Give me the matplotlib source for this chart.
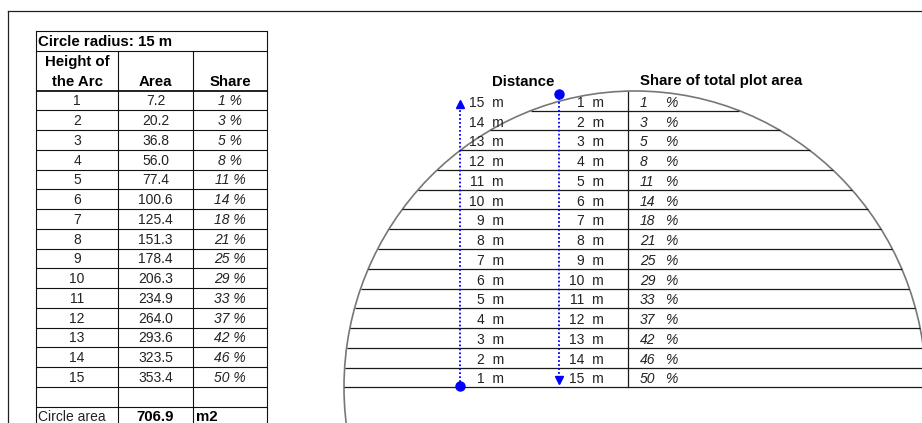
import numpy as np
import matplotlib
matplotlib.use("Agg")
import matplotlib.pyplot as plt
from matplotlib.patches import Ellipse

# ---------------- data ----------------
radius = 15
heights = list(range(1, 16))
areas = [7.2, 20.2, 36.8, 56.0, 77.4, 100.6, 125.4, 151.3, 178.4, 206.3,
         234.9, 264.0, 293.6, 323.5, 353.4]
shares = [1, 3, 5, 8, 11, 14, 18, 21, 25, 29, 33, 37, 42, 46, 50]
dist_up = [15, 14, 13, 12, 11, 10, 9, 8, 7, 6, 5, 4, 3, 2, 1]
dist_down = [1, 2, 3, 4, 5, 6, 7, 8, 9, 10, 11, 12, 13, 14, 15]
circle_area = 706.9

# ---------------- layout ----------------
W, H = 922, 423
ROW0, ROWH = 31.5, 19.75
COLS = [36, 118, 193, 267]
CX, SX, TOP, SY = 635, 19.4, 91, 19.75

FONT = ['Liberation Sans', 'DejaVu Sans']
plt.rcParams['font.family'] = FONT
FS = 10
FSB = 10.8
LC = '#111111'

fig = plt.figure(figsize=(W / 100, H / 100), dpi=100)
fig.patch.set_facecolor('white')

tax = fig.add_axes([0, 0, 1, 1])
tax.set_xlim(0, W)
tax.set_ylim(H, 0)
tax.axis('off')

dax = fig.add_axes([0, 0, 1, 1])
dax.set_xlim(-CX / SX, (W - CX) / SX)
dax.set_ylim((H - TOP) / SY, -TOP / SY)
dax.axis('off')
dax.patch.set_alpha(0)

# outer frame
tax.plot([8, 8], [11, H + 2], color='#222222', lw=0.9)
tax.plot([8, W + 2], [11, 11], color='#222222', lw=0.9)

# ---------------- left table ----------------
def ry(r):
    return ROW0 + ROWH * r

def rc(r):
    return ROW0 + ROWH * (r + 0.5) + 0.8

n_rows = 20
for r in range(0, n_rows + 1):
    if r == 2:
        continue
    y = ry(r)
    if y > H + 2:
        continue
    tax.plot([COLS[0], COLS[-1]], [y, y], color=LC,
             lw=1.3 if r == 3 else 0.8, solid_capstyle='butt')
for i, x in enumerate(COLS):
    y0 = ry(0) if i in (0, len(COLS) - 1) else ry(1)
    tax.plot([x, x], [y0, H + 2], color=LC, lw=0.8)

mid = [(COLS[i] + COLS[i + 1]) / 2 for i in range(3)]
tax.text(COLS[0] + 2, rc(0), f"Circle radius: {radius} m", fontsize=FSB,
         fontweight='bold', va='center', ha='left')
tax.text(mid[0], rc(1), "Height of", fontsize=FSB, fontweight='bold',
         va='center', ha='center')
tax.text(mid[0], rc(2), "the Arc", fontsize=FSB, fontweight='bold',
         va='center', ha='center')
tax.text(mid[1], rc(2), "Area", fontsize=FSB, fontweight='bold',
         va='center', ha='center')
tax.text(mid[2], rc(2), "Share", fontsize=FSB, fontweight='bold',
         va='center', ha='center')
for k, (h, a, s) in enumerate(zip(heights, areas, shares)):
    r = 3 + k
    tax.text(mid[0], rc(r), f"{h}", fontsize=FS, va='center', ha='center', color='#222')
    tax.text(mid[1], rc(r), f"{a:.1f}", fontsize=FS, va='center', ha='center', color='#222')
    tax.text(mid[2], rc(r), f"{s} %", fontsize=FS, va='center', ha='center',
             style='italic', color='#222')
tax.text(COLS[0] + 2, rc(19), "Circle area", fontsize=FS, va='center', ha='left', color='#222')
tax.text(mid[1], rc(19), f"{circle_area:.1f}", fontsize=FSB, fontweight='bold',
         va='center', ha='center')
tax.text(COLS[2] + 3, rc(19), "m2", fontsize=FSB, fontweight='bold',
         va='center', ha='left')

# ---------------- circle diagram ----------------
def px2m(px):
    return (px - CX) / SX

def py2m(py):
    return (py - TOP) / SY

circle = Ellipse((0, radius), 2 * radius, 2 * radius, fill=False,
                 ec='#777777', lw=1.2)
dax.add_patch(circle)

for h in heights:
    half = np.sqrt(2 * radius * h - h * h)
    dax.plot([-half, half], [h, h], color='#1a1a1a', lw=0.9,
             solid_capstyle='butt')

dax.plot([px2m(628), px2m(628)], [0.05, radius], color='#1a1a1a', lw=0.9)

# headers
dax.text(px2m(523), py2m(81.5), "Distance", fontsize=FSB, fontweight='bold',
         ha='center', va='center')
dax.text(px2m(640), py2m(81.5), "Share of total plot area", fontsize=FSB,
         fontweight='bold', ha='left', va='center')

for h, du, dd, s in zip(heights, dist_up, dist_down, shares):
    yc = h - 0.4
    dax.text(px2m(504), yc, f"{du}  m", fontsize=FS, ha='right', va='center', color='#222')
    dax.text(px2m(604), yc, f"{dd}  m", fontsize=FS, ha='right', va='center', color='#222')
    dax.text(px2m(640), yc, f"{s}", fontsize=FS, ha='left', va='center',
             style='italic', color='#222')
    dax.text(px2m(665), yc, "%", fontsize=FS, ha='left', va='center',
             style='italic', color='#222')

# blue arrows
BLUE = '#0000ff'
xl, xr = px2m(460), px2m(559)
dax.plot([xl, xl], [heights[-1] - 0.06, dist_up[-1] - 0.4], color=BLUE,
         lw=1.3, linestyle=(0, (1, 1.2)))
dax.plot([xl], [heights[-1] - 0.06], 'o', color=BLUE, ms=6.5)
dax.plot([xl], [dist_up[-1] - 0.35], '^', color=BLUE, ms=6)
dax.plot([xr, xr], [0.15, dist_down[-1] - 0.45], color=BLUE,
         lw=1.3, linestyle=(0, (1, 1.2)))
dax.plot([xr], [0.15], 'o', color=BLUE, ms=6.5)
dax.plot([xr], [dist_down[-1] - 0.35], 'v', color=BLUE, ms=6)

fig.savefig("out.png", dpi=100, facecolor='white')
